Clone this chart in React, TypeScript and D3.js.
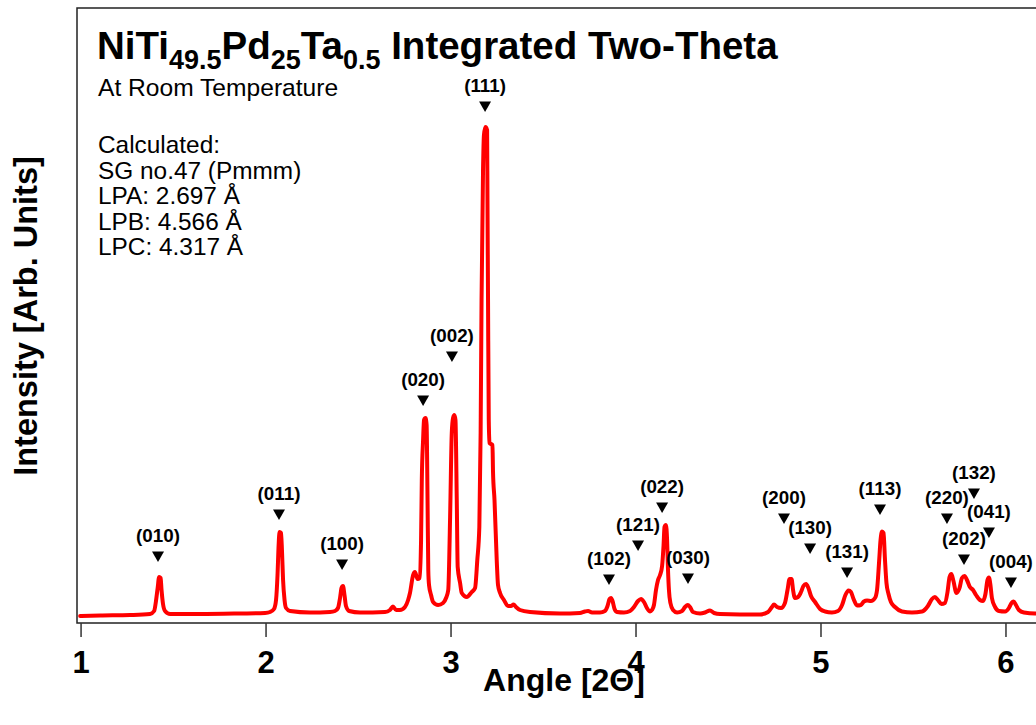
import React from "react";
import * as d3 from "d3";

// Diffraction pattern (angle in 2-theta, intensity in arbitrary units)
const angles = [
  0.995, 1.103, 1.265, 1.373, 1.395, 1.405, 1.414, 1.422, 1.43, 1.435, 1.443, 1.454, 1.481, 1.643, 1.859,
  1.995, 2.022, 2.043, 2.054, 2.062, 2.068, 2.073, 2.081, 2.086, 2.092, 2.1, 2.108, 2.13, 2.238, 2.346,
  2.373, 2.389, 2.4, 2.408, 2.416, 2.424, 2.432, 2.449, 2.508, 2.643, 2.67, 2.686, 2.703, 2.724, 2.751,
  2.768, 2.778, 2.795, 2.805, 2.819, 2.83, 2.838, 2.842, 2.849, 2.854, 2.862, 2.868, 2.873, 2.877, 2.881,
  2.892, 2.903, 2.93, 2.957, 2.973, 2.985, 2.995, 3.004, 3.011, 3.018, 3.024, 3.031, 3.036, 3.049, 3.058,
  3.085, 3.112, 3.13, 3.142, 3.153, 3.16, 3.165, 3.173, 3.178, 3.186, 3.195, 3.197, 3.2, 3.204, 3.208,
  3.224, 3.227, 3.235, 3.247, 3.254, 3.265, 3.286, 3.308, 3.324, 3.338, 3.351, 3.373, 3.427, 3.589, 3.697,
  3.724, 3.741, 3.762, 3.805, 3.832, 3.846, 3.857, 3.865, 3.873, 3.884, 3.897, 3.935, 3.968, 3.989, 4.011,
  4.027, 4.043, 4.059, 4.076, 4.086, 4.097, 4.108, 4.119, 4.13, 4.141, 4.149, 4.154, 4.162, 4.168, 4.173,
  4.178, 4.186, 4.2, 4.222, 4.249, 4.265, 4.28, 4.292, 4.308, 4.346, 4.373, 4.4, 4.422, 4.454, 4.67,
  4.714, 4.735, 4.746, 4.762, 4.784, 4.805, 4.819, 4.83, 4.841, 4.849, 4.859, 4.876, 4.892, 4.905, 4.919,
  4.932, 4.946, 4.968, 4.995, 5.022, 5.059, 5.092, 5.114, 5.132, 5.149, 5.162, 5.176, 5.195, 5.216, 5.232,
  5.249, 5.27, 5.292, 5.303, 5.314, 5.322, 5.33, 5.338, 5.346, 5.354, 5.365, 5.378, 5.4, 5.438, 5.492,
  5.546, 5.578, 5.6, 5.616, 5.632, 5.651, 5.67, 5.684, 5.695, 5.705, 5.716, 5.732, 5.749, 5.762, 5.776,
  5.789, 5.805, 5.822, 5.838, 5.859, 5.876, 5.889, 5.9, 5.908, 5.916, 5.924, 5.941, 5.962, 5.995, 6.016,
  6.03, 6.041, 6.054, 6.07, 6.097, 6.157, 6.238,
];

const intensities = [
  7, 7.5, 8, 9, 12, 22, 35, 46, 45, 33, 19, 12, 9, 9, 9.5,
  10, 11, 14, 23, 48, 78, 91, 90, 73, 43, 23, 15, 12, 10.5, 11,
  12, 15, 25, 35, 37, 28, 17, 12, 10.5, 11, 13, 16.5, 13, 13, 16,
  23, 30, 48, 51, 44, 45, 83, 143, 183, 203, 205, 198, 123, 53, 38,
  28, 21, 18, 20, 25, 33, 106, 190, 205, 208, 203, 123, 56, 40, 30,
  26, 31, 35, 63, 96, 190, 323, 453, 488, 496, 493, 423, 323, 203, 180,
  178, 151, 123, 63, 38, 30, 23, 17, 17, 18.5, 16, 13, 11, 9.5, 10,
  11.5, 12, 10.5, 10.5, 12, 17, 24, 25, 22, 14, 11, 10.5, 12, 16, 22,
  24, 21, 15, 11.5, 13, 18, 33, 43, 48, 57, 78, 96, 98, 83, 53,
  33, 20, 13, 10.5, 12, 16, 18, 16, 11, 9.5, 10.5, 12.5, 10, 9, 8.5,
  11, 16, 18.5, 16, 15, 20, 33, 44, 44, 33, 25, 26, 31, 37, 39,
  35, 27, 21, 14, 11.5, 10.5, 12, 18, 28, 32.5, 31, 24, 17.5, 18, 21.5,
  22.5, 22, 25, 33, 61, 83, 91.5, 90, 63, 40, 29, 21, 16, 11.5, 10.5,
  11.5, 17, 24, 26, 23, 19, 20, 31, 46, 49, 42, 30, 35, 45, 47,
  43, 36, 33, 28, 23, 22, 29, 43, 45.5, 38, 25, 16, 12, 11.5, 15,
  20, 21.5, 18, 13, 10.5, 9.5, 9.5,
];

// Reflection markers
const hklLabels = [
  "(010)", "(011)", "(100)", "(020)", "(002)", "(111)", "(102)", "(121)", "(022)", "(030)",
  "(200)", "(130)", "(131)", "(113)", "(220)", "(132)", "(041)", "(202)", "(004)",
];
const hklAngles = [
  1.416, 2.07, 2.411, 2.849, 3.005, 3.184, 3.854, 4.011, 4.141, 4.281,
  4.8, 4.941, 5.141, 5.319, 5.681, 5.827, 5.908, 5.773, 6.027,
];
const hklLevels = [
  61, 103, 53, 217, 261, 511, 38, 72, 110, 39,
  99, 69, 45, 108, 99, 124, 85, 58, 35,
];

const xTicks = [1, 2, 3, 4, 5, 6];

const infoLines = [
  "Calculated:",
  "SG no.47 (Pmmm)",
  "LPA: 2.697 Å",
  "LPB: 4.566 Å",
  "LPC: 4.317 Å",
];

const W = 1036;
const H = 725;
const M = { left: 77, top: 8, right: 1050, bottom: 623 };
const FONT = "'Liberation Sans', Arial, Helvetica, sans-serif";

export default function App() {
  const x = d3.scaleLinear().domain([0.978, 6.238]).range([M.left, M.right]);
  const y = d3.scaleLinear().domain([0, 615]).range([M.bottom, M.top]);

  const pts: [number, number][] = angles.map((a, i) => [a, intensities[i]]);
  const line = d3
    .line<[number, number]>()
    .x((d) => x(d[0]))
    .y((d) => y(d[1]))
    .curve(d3.curveMonotoneX);

  const infoBaselines = [153, 178.5, 204, 229.5, 255];

  return (
    <div style={{ position: "absolute", left: 0, top: 0, width: W, height: H, overflow: "hidden" }}>
      <svg width={W} height={H} style={{ display: "block", background: "#fff" }} fontFamily={FONT}>
        <defs>
          <clipPath id="plotClip">
            <rect x={M.left + 1} y={M.top + 1} width={M.right - M.left - 2} height={M.bottom - M.top - 2} />
          </clipPath>
        </defs>

        {/* frame */}
        <rect
          x={M.left}
          y={M.top}
          width={M.right - M.left}
          height={M.bottom - M.top}
          fill="none"
          stroke="#222"
          strokeWidth={1.5}
        />

        {/* x ticks */}
        {xTicks.map((t) => (
          <g key={t}>
            <line x1={x(t)} x2={x(t)} y1={M.bottom} y2={M.bottom + 14} stroke="#333" strokeWidth={1.5} />
            <text x={x(t)} y={673} textAnchor="middle" fontSize={31} fontWeight="bold" fill="#000">
              {t}
            </text>
          </g>
        ))}

        {/* axis titles */}
        <text x={564} y={691} textAnchor="middle" fontSize={32} fontWeight="bold" fill="#000">
          Angle [2Θ]
        </text>
        <text
          transform={`translate(37, 316) rotate(-90)`}
          textAnchor="middle"
          fontSize={32.5}
          fontWeight="bold"
          fill="#000"
        >
          Intensity [Arb. Units]
        </text>

        {/* title */}
        <text x={97} y={59} fontSize={38.5} fontWeight="bold" fill="#000">
          <tspan>NiTi</tspan>
          <tspan fontSize={27} dy={10}>49.5</tspan>
          <tspan dy={-10}>Pd</tspan>
          <tspan fontSize={27} dy={10}>25</tspan>
          <tspan dy={-10}>Ta</tspan>
          <tspan fontSize={27} dy={10}>0.5</tspan>
          <tspan dy={-10}> Integrated Two-Theta</tspan>
        </text>
        <text x={98} y={96} fontSize={24.6} fill="#000">
          At Room Temperature
        </text>
        {infoLines.map((s, i) => (
          <text key={s} x={98} y={infoBaselines[i]} fontSize={24.4} fill="#000">
            {s}
          </text>
        ))}

        {/* curve */}
        <path
          d={line(pts) || ""}
          fill="none"
          stroke="#ff0000"
          strokeWidth={4}
          strokeLinejoin="round"
          strokeLinecap="round"
          clipPath="url(#plotClip)"
        />

        {/* markers */}
        {hklLabels.map((lab, i) => {
          const cx = x(hklAngles[i]);
          const tip = y(hklLevels[i]);
          return (
            <g key={lab}>
              <path d={`M${cx - 6},${tip - 10.5}L${cx + 6},${tip - 10.5}L${cx},${tip}Z`} fill="#000" />
              <text x={cx} y={tip - 20} textAnchor="middle" fontSize={18.8} fontWeight="bold" fill="#000">
                {lab}
              </text>
            </g>
          );
        })}
      </svg>
    </div>
  );
}
